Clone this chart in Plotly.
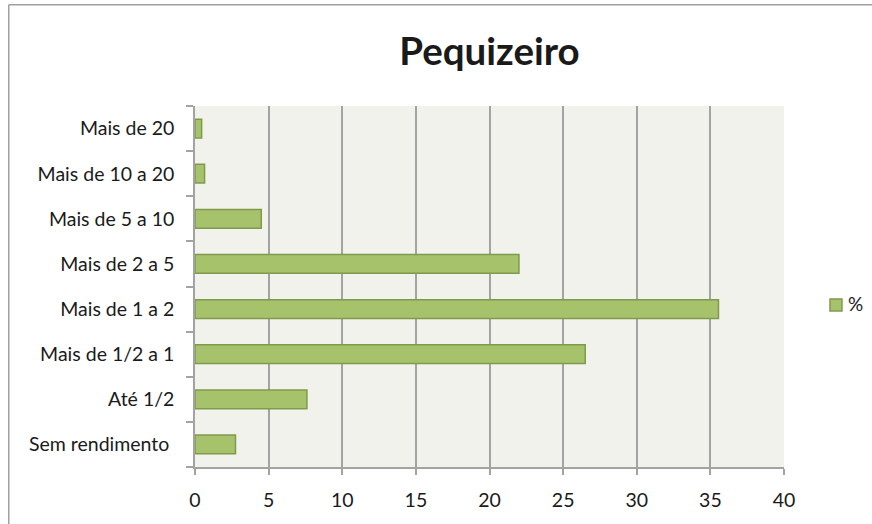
import plotly.graph_objects as go

# Income brackets (bottom to top) and share of respondents, in %
categories = [
    "Sem rendimento\u00a0",
    "Até 1/2",
    "Mais de 1/2 a 1",
    "Mais de 1 a 2",
    "Mais de 2 a 5",
    "Mais de 5 a 10",
    "Mais de 10 a 20",
    "Mais de 20",
]
percent = [2.75, 7.6, 26.5, 35.55, 22.0, 4.5, 0.65, 0.45]
series_name = "%"
title_text = "Pequizeiro"
x_ticks = [0, 5, 10, 15, 20, 25, 30, 35, 40]

W, H = 872, 524
L, R, T, B = 195.3, 87.5, 105.7, 56.7
pw = W - L - R
ph = H - T - B

FONT = "Lato, 'Open Sans', sans-serif"
GRID = "#a3a3a3"
BAR_FILL = "#a6c36b"
BAR_EDGE = "#7f9a4d"


def px_x(x):
    return (x - L) / pw


def px_y(y):
    return 1 - (y - T) / ph


fig = go.Figure(
    go.Bar(
        x=percent,
        y=categories,
        orientation="h",
        name=series_name,
        marker=dict(color=BAR_FILL, line=dict(color=BAR_EDGE, width=1.5)),
        hoverinfo="x+y",
        showlegend=False,
    )
)

# Outer chart frame (continues past the right and bottom edges)
fx, fy = px_x(9), px_y(4.3)
frame = dict(type="line", xref="paper", yref="paper",
             line=dict(color="#a0a0a0", width=1.5), layer="above")
fig.add_shape(**frame, x0=fx, x1=fx, y0=-1, y1=fy)
fig.add_shape(**frame, x0=fx, x1=2, y0=fy, y1=fy)

# Series key on the right
fig.add_shape(type="rect", xref="paper", yref="paper",
              x0=px_x(830.5), x1=px_x(842.5), y0=px_y(311), y1=px_y(299),
              fillcolor=BAR_FILL, line=dict(color=BAR_EDGE, width=1.5))
fig.add_annotation(text=series_name, xref="paper", yref="paper",
                   x=px_x(847), y=px_y(304), xanchor="left", yanchor="middle",
                   showarrow=False, font=dict(family=FONT, size=19, color="#1a1a1a"))

fig.update_layout(
    width=W,
    height=H,
    margin=dict(l=L, r=R, t=T, b=B, pad=0, autoexpand=False),
    paper_bgcolor="white",
    plot_bgcolor="#f0f2eb",
    bargap=0.586,
    font=dict(family=FONT, size=19.5, color="#1a1a1a"),
    title=dict(
        text="<b>" + title_text + "</b>",
        x=489.5 / W,
        xref="container",
        xanchor="center",
        y=1 - 52 / H,
        yref="container",
        yanchor="middle",
        font=dict(family=FONT, size=38.5, color="#1a1a1a"),
    ),
    showlegend=False,
    xaxis=dict(
        range=[0, 40],
        tickvals=x_ticks,
        showgrid=True,
        gridcolor=GRID,
        gridwidth=1.5,
        zeroline=False,
        showline=True,
        linecolor=GRID,
        linewidth=1.5,
        ticks="outside",
        ticklen=6,
        tickwidth=1.5,
        tickcolor=GRID,
        ticklabelstandoff=9,
        fixedrange=True,
    ),
    yaxis=dict(
        categoryorder="array",
        categoryarray=categories,
        showgrid=False,
        showline=True,
        linecolor=GRID,
        linewidth=1.5,
        ticks="outside",
        tickson="boundaries",
        ticklen=7,
        tickwidth=1.5,
        tickcolor=GRID,
        ticklabelstandoff=15,
        fixedrange=True,
    ),
)

fig.write_html("out.html")
